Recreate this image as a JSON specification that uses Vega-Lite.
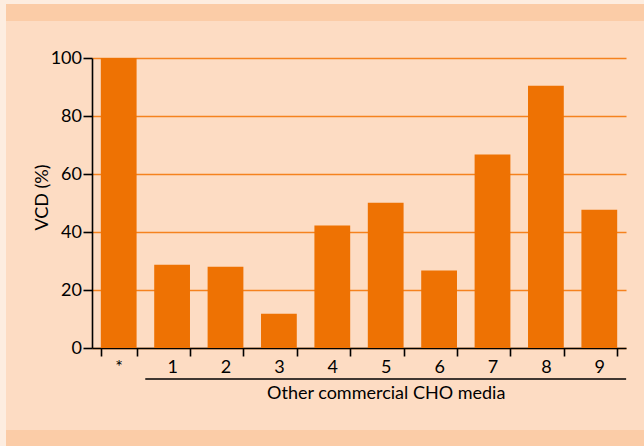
{
  "$schema": "https://vega.github.io/schema/vega-lite/v6.json",
  "background": "#FDDCC3",
  "padding": 0,
  "config": {"view": {"stroke": null}, "font": "Lato"},
  "spacing": 0,
  "hconcat": [
    {"width": 6, "height": 446, "view": {"fill": "#FDEDE0"}, "data": {"values": []}, "mark": "rule", "encoding": {}},
    {
      "spacing": 0,
      "vconcat": [
        {"width": 660, "height": 4, "view": {"fill": "#FDEDE0"}, "data": {"values": []}, "mark": "rule", "encoding": {}},
        {"width": 660, "height": 17, "view": {"fill": "#FBCCA7"}, "data": {"values": []}, "mark": "rule", "encoding": {}},
        {"width": 10, "height": 28, "view": {"fill": "#FDDCC3"}, "data": {"values": []}, "mark": "rule", "encoding": {}},
        {
          "spacing": 0,
          "hconcat": [
            {"width": 27, "height": 1, "view": {"fill": "#FDDCC3"}, "data": {"values": []}, "mark": "rule", "encoding": {}},
            {
              "width": 534,
              "height": 290,
              "data": {"values": [
                {"medium": "*", "vcd": 100},
                {"medium": "1", "vcd": 28.7},
                {"medium": "2", "vcd": 28.0},
                {"medium": "3", "vcd": 11.8},
                {"medium": "4", "vcd": 42.2},
                {"medium": "5", "vcd": 50.1},
                {"medium": "6", "vcd": 26.7},
                {"medium": "7", "vcd": 66.7},
                {"medium": "8", "vcd": 90.4},
                {"medium": "9", "vcd": 47.7}
              ]},
              "layer": [
                {
                  "mark": {"type": "bar", "color": "#EE7203"},
                  "encoding": {
                    "x": {
                      "field": "medium", "type": "nominal",
                      "scale": {"domain": ["*", "1", "2", "3", "4", "5", "6", "7", "8", "9"], "paddingInner": 0.33, "paddingOuter": 0.165},
                      "axis": {
                        "title": "Other commercial CHO media",
                        "titleX": 293.7, "titleY": 36, "titleBaseline": "top", "titleAlign": "center",
                        "titleFontSize": 18, "titleFontWeight": "normal", "titleColor": "#000000", "titleFont": "Lato",
                        "labelAngle": 0, "labelFontSize": 18, "labelColor": "#000000", "labelFont": "Lato", "labelPadding": 2,
                        "tickBand": "extent", "tickSize": 8, "tickWidth": 1.6, "tickColor": "#000000",
                        "domainColor": "#000000", "domainWidth": 1.6, "grid": false
                      }
                    },
                    "y": {
                      "field": "vcd", "type": "quantitative",
                      "scale": {"domain": [0, 100], "nice": false},
                      "axis": {
                        "title": "VCD (%)", "values": [0, 20, 40, 60, 80, 100],
                        "titleX": -45, "titleY": 139, "titleBaseline": "alphabetic", "titleAlign": "center", "titleAngle": 270,
                        "titleFontSize": 18, "titleFontWeight": "normal", "titleColor": "#000000", "titleFont": "Lato",
                        "labelFontSize": 18, "labelColor": "#000000", "labelFont": "Lato", "labelPadding": 1.5,
                        "tickSize": 9, "tickWidth": 1.6, "tickColor": "#000000",
                        "domainColor": "#000000", "domainWidth": 1.6,
                        "grid": true, "gridColor": "#F5821F", "gridWidth": 1.5
                      }
                    }
                  }
                },
                {
                  "data": {"values": [{"group": "Other commercial CHO media", "first": "1", "last": "9"}]},
                  "mark": {"type": "rule", "color": "#000000", "strokeWidth": 1.5, "clip": false},
                  "encoding": {
                    "x": {"field": "first", "type": "nominal", "bandPosition": -0.25},
                    "x2": {"field": "last", "bandPosition": 1.25},
                    "y": {"datum": 0},
                    "yOffset": {"value": 31}
                  }
                }
              ]
            }
          ]
        },
        {"width": 10, "height": 28, "view": {"fill": "#FDDCC3"}, "data": {"values": []}, "mark": "rule", "encoding": {}},
        {"width": 660, "height": 30, "view": {"fill": "#FBCCA7"}, "data": {"values": []}, "mark": "rule", "encoding": {}}
      ]
    }
  ]
}
